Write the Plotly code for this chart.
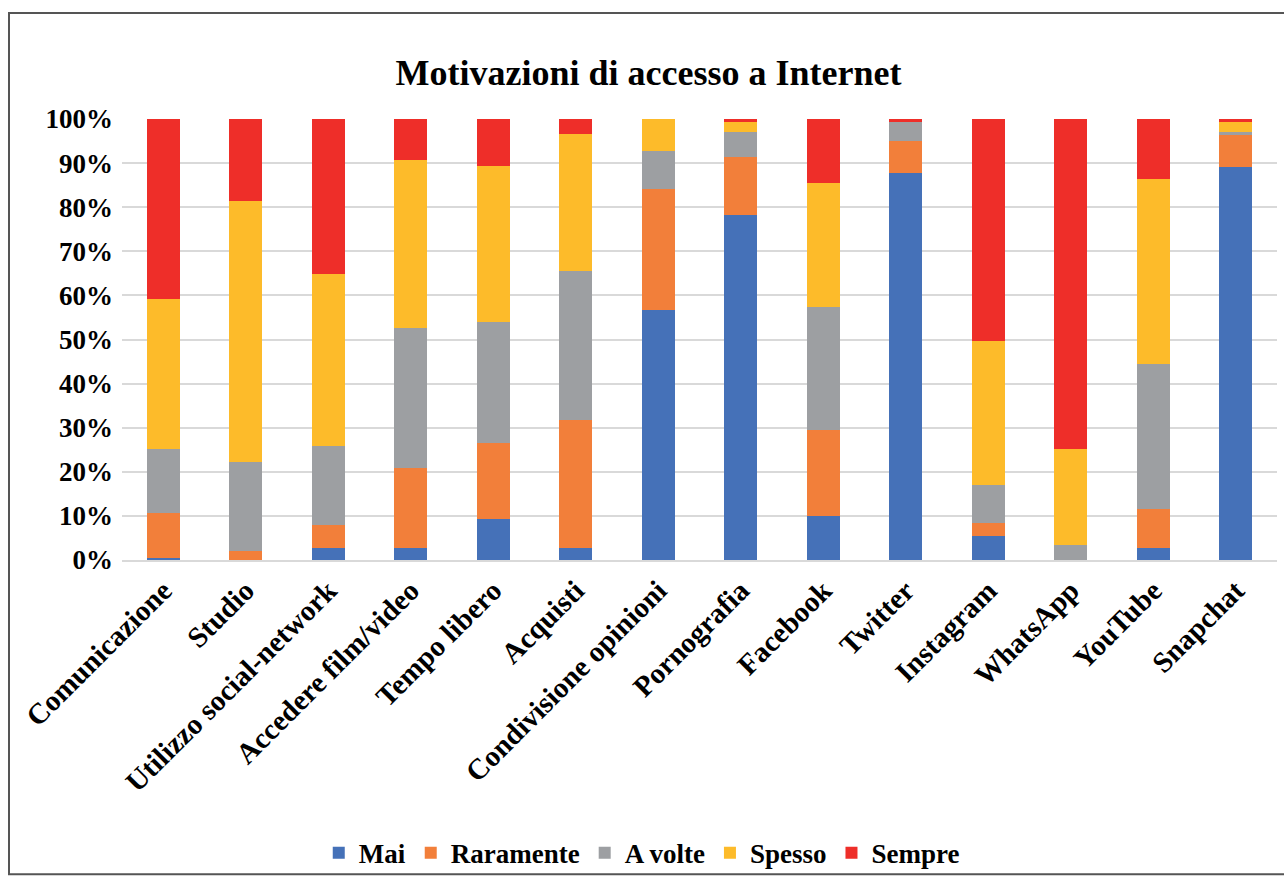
import plotly.graph_objects as go

categories = ["Comunicazione", "Studio", "Utilizzo social-network", "Accedere film/video",
              "Tempo libero", "Acquisti", "Condivisione opinioni", "Pornografia", "Facebook",
              "Twitter", "Instagram", "WhatsApp", "YouTube", "Snapchat"]

mai = [0.5, 0.0, 2.8, 2.8, 9.2, 2.8, 56.8, 78.3, 10.0, 87.8, 5.5, 0.0, 2.8, 89.2]
raramente = [10.2, 2.1, 5.1, 18.0, 17.4, 28.9, 27.4, 13.0, 19.4, 7.2, 3.0, 0.0, 8.7, 7.1]
a_volte = [14.4, 20.1, 18.0, 31.8, 27.4, 33.8, 8.5, 5.8, 28.0, 4.4, 8.6, 3.4, 33.0, 0.8]
spesso = [34.0, 59.1, 38.9, 38.2, 35.3, 31.0, 7.3, 2.2, 28.2, 0.0, 32.5, 21.8, 41.8, 2.2]
sempre = [40.9, 18.7, 35.2, 9.2, 10.7, 3.5, 0.0, 0.7, 14.4, 0.6, 50.4, 74.8, 13.7, 0.7]

y_ticks = [0, 10, 20, 30, 40, 50, 60, 70, 80, 90, 100]
y_tick_labels = [f"{v}%" for v in y_ticks]

series = [("Mai", mai, "#4571b8"),
          ("Raramente", raramente, "#f27f3a"),
          ("A volte", a_volte, "#9d9fa2"),
          ("Spesso", spesso, "#fdbb2a"),
          ("Sempre", sempre, "#ee2e29")]

FONT = "Liberation Serif, Times New Roman, serif"

fig = go.Figure()
for name, vals, color in series:
    fig.add_trace(go.Bar(x=categories, y=vals, name=name, marker=dict(color=color, line=dict(width=0))))

fig.update_layout(
    barmode="stack",
    bargap=0.6,
    width=1284, height=884,
    margin=dict(l=122, r=7, t=119, b=320),
    plot_bgcolor="white", paper_bgcolor="white",
    title=dict(text="Motivazioni di accesso a Internet", x=0.505, xref="container", xanchor="center",
               y=1 - 72 / 884, yref="container", yanchor="middle",
               font=dict(family=FONT, size=36, color="black", weight="bold")),
    font=dict(family=FONT, color="black"),
    legend=dict(orientation="h", x=0.45, xanchor="center", y=-0.665, yanchor="middle",
                bgcolor="rgba(0,0,0,0)",
                font=dict(family=FONT, size=27, color="black", weight="bold"),
                itemsizing="constant", traceorder="normal", itemwidth=30),
    yaxis=dict(range=[0, 100], tickmode="array", tickvals=y_ticks, ticktext=y_tick_labels,
               showgrid=True, gridcolor="#d9d9d9", gridwidth=2,
               zeroline=False, showline=False, ticks="", ticklen=0, ticklabelstandoff=8,
               tickfont=dict(family=FONT, size=27, color="black", weight="bold")),
    xaxis=dict(tickangle=-45, showline=True, linecolor="#d9d9d9", linewidth=2,
               ticks="", tickfont=dict(family=FONT, size=29, color="black", weight="bold")),
    shapes=[dict(type="rect", xref="paper", yref="paper",
                 x0=(9 - 122) / 1155, x1=1.2, y0=(564 - 881) / 445, y1=(564 - 12) / 445,
                 line=dict(color="#555555", width=2), fillcolor="rgba(0,0,0,0)", layer="below")],
)

fig.write_html("out.html")
